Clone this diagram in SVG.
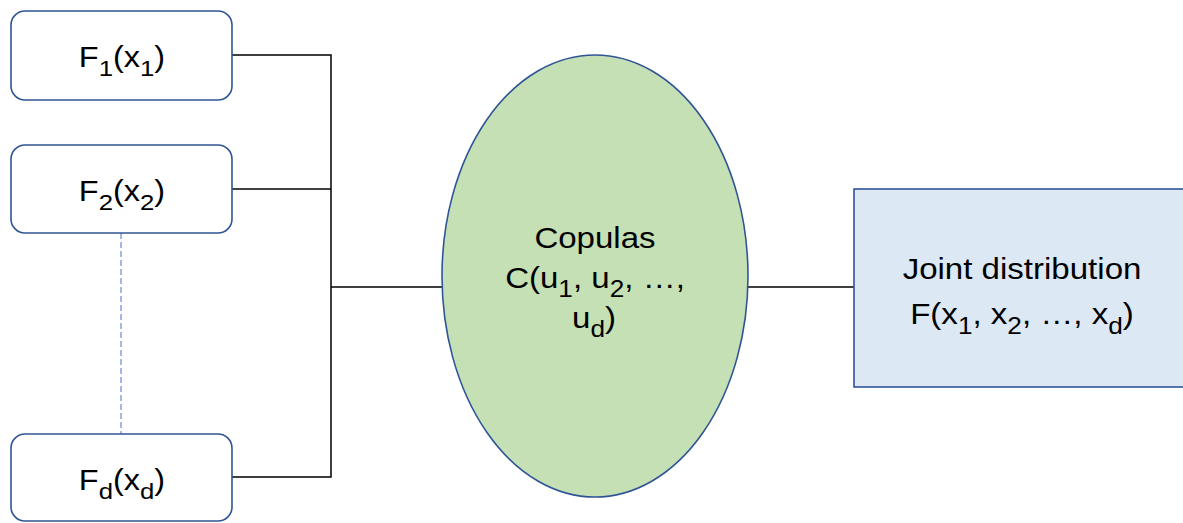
<svg xmlns="http://www.w3.org/2000/svg" width="1183" height="523" viewBox="0 0 1183 523">
<style>
.box{fill:#ffffff;stroke:#2f5597;stroke-width:1.6}
.ell{fill:#c5e0b4;stroke:#2f5597;stroke-width:1.6}
.rect{fill:#dde8f5;stroke:#2f5597;stroke-width:1.6}
.conn{stroke:#000000;stroke-width:1.5;fill:none}
.dash{stroke:#4472c4;stroke-width:1;stroke-dasharray:6,3;fill:none}
text{font-family:"Liberation Sans",Arial,sans-serif;font-size:29px;fill:#000000;text-anchor:middle}
.sub{font-size:23px}
</style>
<rect width="1183" height="523" fill="#ffffff"/>
<g id="connectors">
<polyline class="conn" points="232,55 331,55 331,477 232,477"/>
<line class="conn" x1="232" y1="189" x2="331" y2="189"/>
<line class="conn" x1="331" y1="287" x2="442" y2="287"/>
<line class="conn" x1="748" y1="287" x2="854" y2="287"/>
<line class="dash" x1="121" y1="233" x2="121" y2="434"/>
</g>
<g id="f1">
<rect class="box" x="11" y="11" width="221" height="89" rx="14"/>
<text transform="translate(122,67) scale(1.12,1)">F<tspan class="sub" dy="9">1</tspan><tspan dy="-9">(x</tspan><tspan class="sub" dy="9">1</tspan><tspan dy="-9">)</tspan></text>
</g>
<g id="f2">
<rect class="box" x="11" y="145" width="221" height="88" rx="14"/>
<text transform="translate(122,201) scale(1.12,1)">F<tspan class="sub" dy="9">2</tspan><tspan dy="-9">(x</tspan><tspan class="sub" dy="9">2</tspan><tspan dy="-9">)</tspan></text>
</g>
<g id="fd">
<rect class="box" x="11" y="434" width="221" height="87" rx="14"/>
<text transform="translate(122,490) scale(1.12,1)">F<tspan class="sub" dy="9">d</tspan><tspan dy="-9">(x</tspan><tspan class="sub" dy="9">d</tspan><tspan dy="-9">)</tspan></text>
</g>
<g id="copulas">
<ellipse class="ell" cx="595" cy="276" rx="153" ry="221"/>
<text transform="translate(595,248) scale(1.14,1)">Copulas</text>
<text transform="translate(595,288) scale(1.14,1)">C(u<tspan class="sub" dy="9">1</tspan><tspan dy="-9">, u</tspan><tspan class="sub" dy="9">2</tspan><tspan dy="-9">, …,</tspan></text>
<text transform="translate(594,328) scale(1.14,1)">u<tspan class="sub" dy="9">d</tspan><tspan dy="-9">)</tspan></text>
</g>
<g id="joint">
<rect class="rect" x="854" y="189" width="340" height="198"/>
<text transform="translate(1022,279) scale(1.14,1)">Joint distribution</text>
<text transform="translate(1022,324) scale(1.14,1)">F(x<tspan class="sub" dy="10">1</tspan><tspan dy="-10">, x</tspan><tspan class="sub" dy="10">2</tspan><tspan dy="-10">, …, x</tspan><tspan class="sub" dy="10">d</tspan><tspan dy="-10">)</tspan></text>
</g>
</svg>
